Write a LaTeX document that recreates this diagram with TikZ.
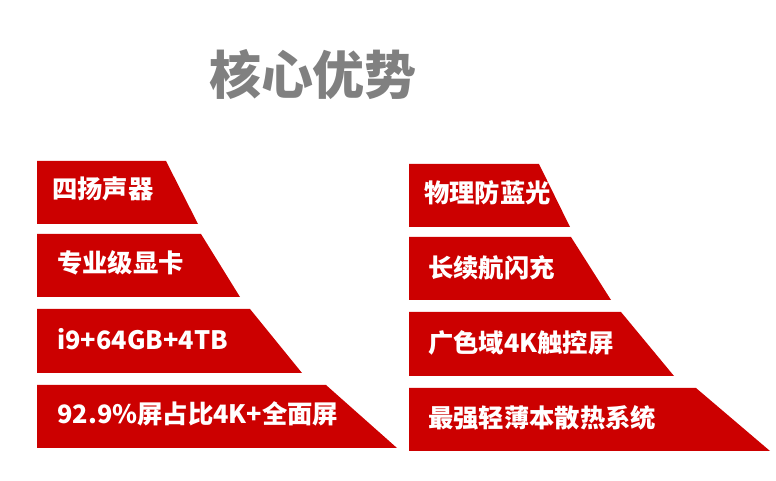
\documentclass[tikz,border=0pt]{standalone}
\usepackage{fontspec}
\newfontfamily\cjk{Noto Sans CJK SC}
\definecolor{bannerred}{RGB}{204,0,0}
\definecolor{titlegray}{RGB}{128,128,128}
\tikzset{
    x=0.75pt,
    y=-0.75pt,
    banner/.style = {
        fill=bannerred,
        draw=none
    },
    label/.style = {
        anchor=west,
        text=white,
        font=\cjk\bfseries\fontsize{19}{22}\selectfont,
        inner sep=0pt
    },
}
% left edge, top, bottom, top right, bottom right
\newcommand{\banner}[6]{
    \fill[banner] (#1,#2) -- (#4,#2) -- (#5,#3) -- (#1,#3) -- cycle;
    \node[label] (#6) at (#1+15,{(#2+#3)/2-3}) {};
}
\begin{document}
\begin{tikzpicture}
    \useasboundingbox (0,0) rectangle (776,481);
    \node[text=titlegray, font=\cjk\bfseries\fontsize{39}{44}\selectfont] (title) at (313,75) {核心优势};

    \fill[banner] (37,161) -- (166,161) -- (198,224) -- (37,224) -- cycle;
    \fill[banner] (37,234) -- (201,234) -- (240,297) -- (37,297) -- cycle;
    \fill[banner] (37,309) -- (250,309) -- (302,373) -- (37,373) -- cycle;
    \fill[banner] (37,385) -- (326,385) -- (397,448) -- (37,448) -- cycle;
    \fill[banner] (409,164) -- (539,164) -- (570,227) -- (409,227) -- cycle;
    \fill[banner] (409,237) -- (571,237) -- (611,300) -- (409,300) -- cycle;
    \fill[banner] (409,312) -- (621,312) -- (674,376) -- (409,376) -- cycle;
    \fill[banner] (409,388) -- (696,388) -- (770,451) -- (409,451) -- cycle;

    \node[label] (speaker) at (52,189) {四扬声器};
    \node[label] (gpu) at (57,263) {专业级显卡};
    \node[label] (spec) at (57,339) {i9+64GB+4TB};
    \node[label] (screen) at (57,414) {92.9\%屏占比4K+全面屏};
    \node[label] (blue) at (424,193) {物理防蓝光};
    \node[label] (battery) at (428,268) {长续航闪充};
    \node[label] (gamut) at (428,343) {广色域4K触控屏};
    \node[label] (cooling) at (428,418) {最强轻薄本散热系统};
\end{tikzpicture}
\end{document}
